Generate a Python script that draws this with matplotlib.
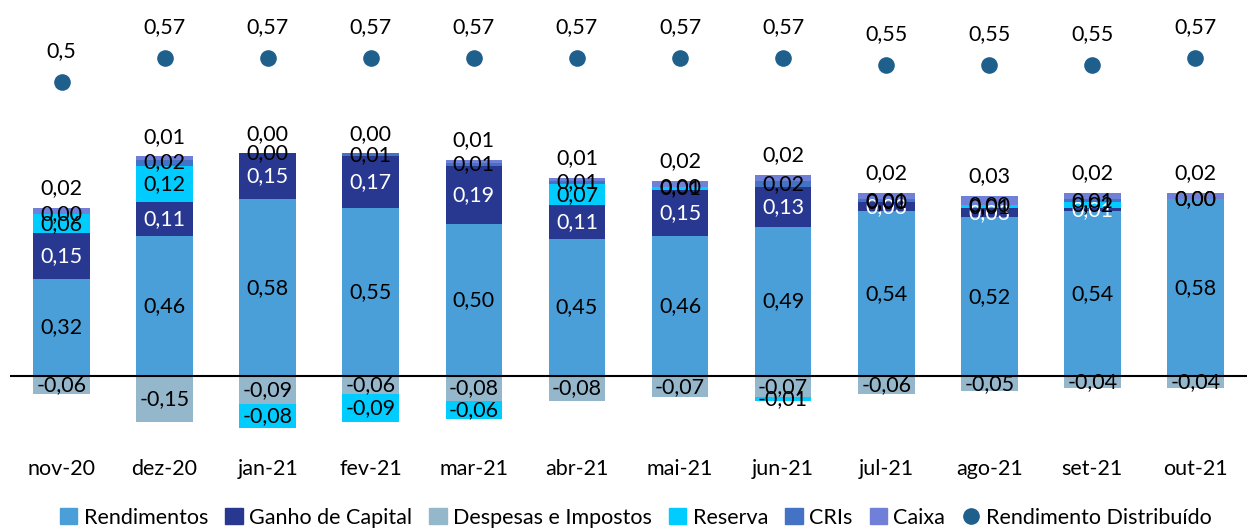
import numpy as np
import matplotlib.pyplot as plt
from matplotlib.lines import Line2D
from matplotlib.patches import Patch

plt.rcParams['font.family'] = ['Lato', 'DejaVu Sans']

meses = ['nov-20', 'dez-20', 'jan-21', 'fev-21', 'mar-21', 'abr-21',
         'mai-21', 'jun-21', 'jul-21', 'ago-21', 'set-21', 'out-21']
rendimentos = [0.32, 0.46, 0.58, 0.55, 0.50, 0.45, 0.46, 0.49, 0.54, 0.52, 0.54, 0.58]
ganho_capital = [0.15, 0.11, 0.15, 0.17, 0.19, 0.11, 0.15, 0.13, 0.03, 0.03, 0.01, 0.00]
despesas = [-0.06, -0.15, -0.09, -0.06, -0.08, -0.08, -0.07, -0.07, -0.06, -0.05, -0.04, -0.04]
reserva = [0.06, 0.12, -0.08, -0.09, -0.06, 0.07, 0.01, -0.01, 0.00, 0.01, 0.02, 0.00]
cris = [0.00, 0.02, 0.00, 0.01, 0.01, 0.01, 0.00, 0.02, 0.01, 0.00, 0.01, 0.00]
caixa = [0.02, 0.01, 0.00, 0.00, 0.01, 0.01, 0.02, 0.02, 0.02, 0.03, 0.02, 0.02]
distribuido = [0.50, 0.57, 0.57, 0.57, 0.57, 0.57, 0.57, 0.57, 0.55, 0.55, 0.55, 0.57]

c_rend = '#4a9fd8'
c_ganho = '#283891'
c_desp = '#95b7cb'
c_res = '#00ccff'
c_cri = '#4472c4'
c_cx = '#7080d8'
c_dot = '#1f5f8b'
fs = 15.5

def fmt(v):
    return f'{v:.2f}'.replace('.', ',')

fig = plt.figure(figsize=(12.47, 5.31), dpi=100)
ax = fig.add_axes([0.008, 0.19, 0.992, 0.81])
x = np.arange(len(meses))
w = 0.55

pos_base = np.zeros(len(meses))
neg_base = np.zeros(len(meses))
series = [(rendimentos, c_rend, 'k'), (ganho_capital, c_ganho, 'white'),
          (despesas, c_desp, 'k'), (reserva, c_res, 'k'), (cris, c_cri, 'k'),
          (caixa, c_cx, 'k')]
for idx, (vals, col, tcol) in enumerate(series):
    vals = np.array(vals)
    base = np.where(vals >= 0, pos_base, neg_base)
    ax.bar(x, vals, w, bottom=base, color=col, edgecolor='none')
    for i, v in enumerate(vals):
        if idx == 5:
            ty = base[i] + v + 0.065
        else:
            ty = base[i] + v / 2
        ax.text(x[i], ty, fmt(v), ha='center', va='center', fontsize=fs, color=tcol)
    pos_base = np.where(vals >= 0, pos_base + vals, pos_base)
    neg_base = np.where(vals < 0, neg_base + vals, neg_base)

ax.axhline(0, color='black', lw=1.5)
ax.set_xlim(-0.5, len(meses) - 0.5)
ax.set_ylim(-0.177, 1.233)
ax.set_xticks(x)
ax.set_xticklabels(meses, fontsize=fs)
ax.tick_params(axis='x', length=0, pad=21)
ax.set_yticks([])
for s in ax.spines.values():
    s.set_visible(False)

ax2 = ax.twinx()
ax2.scatter(x, distribuido, s=120, color=c_dot, zorder=3)
for i, v in enumerate(distribuido):
    lbl = fmt(v).rstrip('0')
    ax2.text(x[i], v + 0.09, lbl, ha='center', va='center', fontsize=fs)
ax2.set_ylim(-0.5145, 0.739)
ax2.set_yticks([])
for s in ax2.spines.values():
    s.set_visible(False)

handles = [Patch(color=c_rend, label='Rendimentos'),
           Patch(color=c_ganho, label='Ganho de Capital'),
           Patch(color=c_desp, label='Despesas e Impostos'),
           Patch(color=c_res, label='Reserva'),
           Patch(color=c_cri, label='CRIs'),
           Patch(color=c_cx, label='Caixa'),
           Line2D([], [], marker='o', color=c_dot, lw=0, markersize=11,
                  label='Rendimento Distribuído')]
fig.legend(handles=handles, loc='lower center', bbox_to_anchor=(0.51, -0.03),
           ncol=7, frameon=False, fontsize=fs, handlelength=0.8, handleheight=0.8,
           handletextpad=0.3, columnspacing=0.8)

fig.savefig('out.png', dpi=100)
